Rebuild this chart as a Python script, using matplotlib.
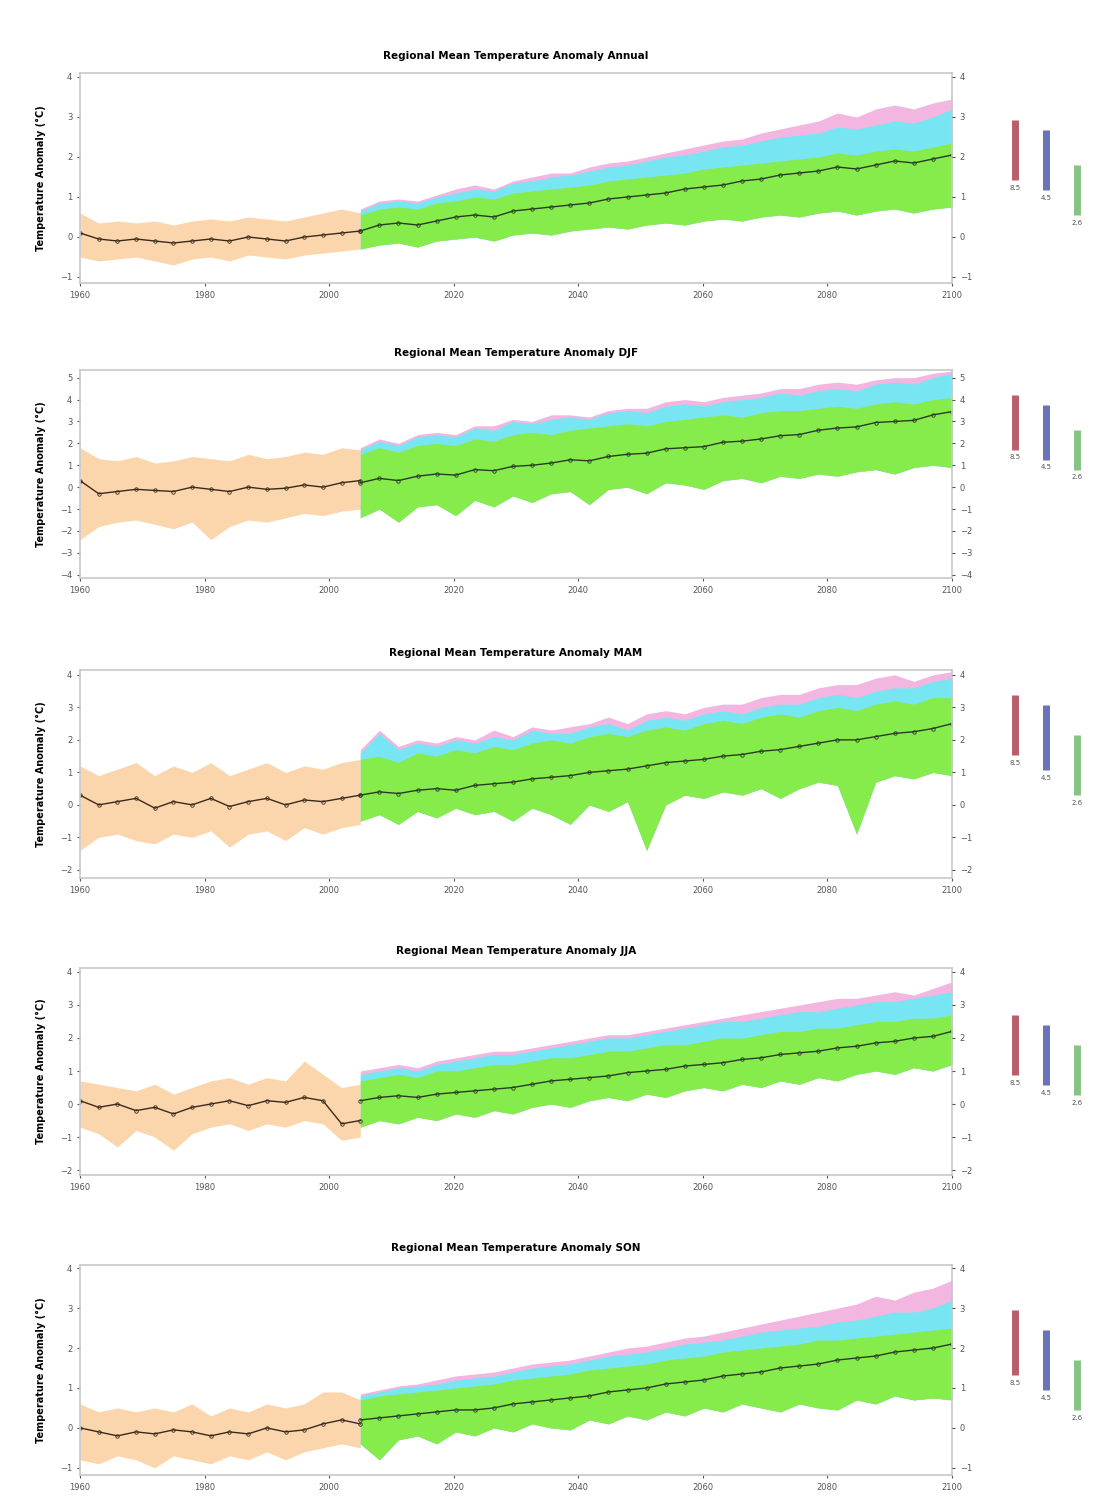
import numpy as np
import matplotlib.pyplot as plt

# Years on the x axis
hist_years = np.arange(1960, 2006, 3)
fut_years = np.linspace(2005, 2100, 32)
x_ticks = [1960, 1980, 2000, 2020, 2040, 2060, 2080, 2100]

seasons = ["Annual", "DJF", "MAM", "JJA", "SON"]

# ---- Annual ----
ann_hist_mean = [0.1, -0.05, -0.1, -0.05, -0.1, -0.15, -0.1, -0.05, -0.1, 0.0, -0.05, -0.1, 0.0, 0.05, 0.1, 0.15]
ann_hist_lo = [-0.5, -0.6, -0.55, -0.5, -0.6, -0.7, -0.55, -0.5, -0.6, -0.45, -0.5, -0.55, -0.45, -0.4, -0.35, -0.3]
ann_hist_hi = [0.6, 0.35, 0.4, 0.35, 0.4, 0.3, 0.4, 0.45, 0.4, 0.5, 0.45, 0.4, 0.5, 0.6, 0.7, 0.6]
ann_mean = [0.15, 0.3, 0.35, 0.3, 0.4, 0.5, 0.55, 0.5, 0.65, 0.7, 0.75, 0.8, 0.85, 0.95, 1.0, 1.05,
            1.1, 1.2, 1.25, 1.3, 1.4, 1.45, 1.55, 1.6, 1.65, 1.75, 1.7, 1.8, 1.9, 1.85, 1.95, 2.05]
ann_green_lo = [-0.3, -0.2, -0.15, -0.25, -0.1, -0.05, 0.0, -0.1, 0.05, 0.1, 0.05, 0.15, 0.2, 0.25, 0.2, 0.3,
                0.35, 0.3, 0.4, 0.45, 0.4, 0.5, 0.55, 0.5, 0.6, 0.65, 0.55, 0.65, 0.7, 0.6, 0.7, 0.75]
ann_green_hi = [0.55, 0.7, 0.75, 0.7, 0.85, 0.9, 1.0, 0.95, 1.1, 1.15, 1.2, 1.25, 1.3, 1.4, 1.45, 1.5,
                1.55, 1.6, 1.7, 1.75, 1.8, 1.85, 1.9, 1.95, 2.0, 2.1, 2.05, 2.15, 2.2, 2.15, 2.25, 2.35]
ann_cyan_hi = [0.65, 0.85, 0.9, 0.85, 1.0, 1.1, 1.2, 1.15, 1.35, 1.4, 1.5, 1.55, 1.65, 1.75, 1.8, 1.9,
               2.0, 2.05, 2.15, 2.25, 2.3, 2.4, 2.5, 2.55, 2.6, 2.75, 2.7, 2.8, 2.9, 2.85, 3.0, 3.2]
ann_pink_hi = [0.7, 0.9, 0.95, 0.9, 1.05, 1.2, 1.3, 1.2, 1.4, 1.5, 1.6, 1.6, 1.75, 1.85, 1.9, 2.0,
               2.1, 2.2, 2.3, 2.4, 2.45, 2.6, 2.7, 2.8, 2.9, 3.1, 3.0, 3.2, 3.3, 3.2, 3.35, 3.45]
ann_bars = [(2.93, 1.43), (2.68, 1.18), (1.8, 0.55)]

# ---- DJF ----
djf_hist_mean = [0.3, -0.3, -0.2, -0.1, -0.15, -0.2, 0.0, -0.1, -0.2, 0.0, -0.1, -0.05, 0.1, 0.0, 0.2, 0.3]
djf_hist_lo = [-2.4, -1.8, -1.6, -1.5, -1.7, -1.9, -1.6, -2.4, -1.8, -1.5, -1.6, -1.4, -1.2, -1.3, -1.1, -1.0]
djf_hist_hi = [1.8, 1.3, 1.2, 1.4, 1.1, 1.2, 1.4, 1.3, 1.2, 1.5, 1.3, 1.4, 1.6, 1.5, 1.8, 1.7]
djf_mean = [0.2, 0.4, 0.3, 0.5, 0.6, 0.55, 0.8, 0.75, 0.95, 1.0, 1.1, 1.25, 1.2, 1.4, 1.5, 1.55,
            1.75, 1.8, 1.85, 2.05, 2.1, 2.2, 2.35, 2.4, 2.6, 2.7, 2.75, 2.95, 3.0, 3.05, 3.3, 3.45]
djf_green_lo = [-1.4, -1.0, -1.6, -0.9, -0.8, -1.3, -0.6, -0.9, -0.4, -0.7, -0.3, -0.2, -0.8, -0.1, 0.0, -0.3,
                0.2, 0.1, -0.1, 0.3, 0.4, 0.2, 0.5, 0.4, 0.6, 0.5, 0.7, 0.8, 0.6, 0.9, 1.0, 0.9]
djf_green_hi = [1.5, 1.8, 1.6, 1.9, 2.0, 1.9, 2.2, 2.1, 2.4, 2.5, 2.4, 2.6, 2.7, 2.8, 2.9, 2.8,
                3.0, 3.1, 3.2, 3.3, 3.2, 3.4, 3.5, 3.5, 3.6, 3.7, 3.6, 3.8, 3.9, 3.8, 4.0, 4.1]
djf_cyan_hi = [1.7, 2.1, 1.9, 2.3, 2.4, 2.3, 2.7, 2.6, 3.0, 2.9, 3.1, 3.2, 3.1, 3.4, 3.5, 3.4,
               3.7, 3.8, 3.7, 3.9, 4.0, 4.1, 4.3, 4.2, 4.4, 4.5, 4.4, 4.7, 4.8, 4.7, 5.0, 5.2]
djf_pink_hi = [1.8, 2.2, 2.0, 2.4, 2.5, 2.4, 2.8, 2.8, 3.1, 3.0, 3.3, 3.3, 3.2, 3.5, 3.6, 3.6,
               3.9, 4.0, 3.9, 4.1, 4.2, 4.3, 4.5, 4.5, 4.7, 4.8, 4.7, 4.9, 5.0, 5.0, 5.2, 5.3]
djf_bars = [(4.22, 1.71), (3.77, 1.26), (2.63, 0.8)]

# ---- MAM ----
mam_hist_mean = [0.3, 0.0, 0.1, 0.2, -0.1, 0.1, 0.0, 0.2, -0.05, 0.1, 0.2, 0.0, 0.15, 0.1, 0.2, 0.3]
mam_hist_lo = [-1.4, -1.0, -0.9, -1.1, -1.2, -0.9, -1.0, -0.8, -1.3, -0.9, -0.8, -1.1, -0.7, -0.9, -0.7, -0.6]
mam_hist_hi = [1.2, 0.9, 1.1, 1.3, 0.9, 1.2, 1.0, 1.3, 0.9, 1.1, 1.3, 1.0, 1.2, 1.1, 1.3, 1.4]
mam_mean = [0.3, 0.4, 0.35, 0.45, 0.5, 0.45, 0.6, 0.65, 0.7, 0.8, 0.85, 0.9, 1.0, 1.05, 1.1, 1.2,
            1.3, 1.35, 1.4, 1.5, 1.55, 1.65, 1.7, 1.8, 1.9, 2.0, 2.0, 2.1, 2.2, 2.25, 2.35, 2.5]
mam_green_lo = [-0.5, -0.3, -0.6, -0.2, -0.4, -0.1, -0.3, -0.2, -0.5, -0.1, -0.3, -0.6, 0.0, -0.2, 0.1, -1.4,
                0.0, 0.3, 0.2, 0.4, 0.3, 0.5, 0.2, 0.5, 0.7, 0.6, -0.9, 0.7, 0.9, 0.8, 1.0, 0.9]
mam_green_hi = [1.4, 1.5, 1.3, 1.6, 1.5, 1.7, 1.6, 1.8, 1.7, 1.9, 2.0, 1.9, 2.1, 2.2, 2.1, 2.3,
                2.4, 2.3, 2.5, 2.6, 2.5, 2.7, 2.8, 2.7, 2.9, 3.0, 2.9, 3.1, 3.2, 3.1, 3.3, 3.3]
mam_cyan_hi = [1.6, 2.2, 1.7, 1.9, 1.8, 2.0, 1.9, 2.1, 2.0, 2.3, 2.2, 2.2, 2.4, 2.5, 2.3, 2.6,
               2.7, 2.6, 2.8, 2.9, 2.8, 3.0, 3.1, 3.1, 3.3, 3.4, 3.3, 3.5, 3.6, 3.6, 3.8, 3.9]
mam_pink_hi = [1.7, 2.3, 1.8, 2.0, 1.9, 2.1, 2.0, 2.3, 2.1, 2.4, 2.3, 2.4, 2.5, 2.7, 2.5, 2.8,
               2.9, 2.8, 3.0, 3.1, 3.1, 3.3, 3.4, 3.4, 3.6, 3.7, 3.7, 3.9, 4.0, 3.8, 4.0, 4.1]
mam_bars = [(3.38, 1.54), (3.08, 1.08), (2.15, 0.31)]

# ---- JJA ----
jja_hist_mean = [0.1, -0.1, 0.0, -0.2, -0.1, -0.3, -0.1, 0.0, 0.1, -0.05, 0.1, 0.05, 0.2, 0.1, -0.6, -0.5]
jja_hist_lo = [-0.7, -0.9, -1.3, -0.8, -1.0, -1.4, -0.9, -0.7, -0.6, -0.8, -0.6, -0.7, -0.5, -0.6, -1.1, -1.0]
jja_hist_hi = [0.7, 0.6, 0.5, 0.4, 0.6, 0.3, 0.5, 0.7, 0.8, 0.6, 0.8, 0.7, 1.3, 0.9, 0.5, 0.6]
jja_mean = [0.1, 0.2, 0.25, 0.2, 0.3, 0.35, 0.4, 0.45, 0.5, 0.6, 0.7, 0.75, 0.8, 0.85, 0.95, 1.0,
            1.05, 1.15, 1.2, 1.25, 1.35, 1.4, 1.5, 1.55, 1.6, 1.7, 1.75, 1.85, 1.9, 2.0, 2.05, 2.2]
jja_green_lo = [-0.7, -0.5, -0.6, -0.4, -0.5, -0.3, -0.4, -0.2, -0.3, -0.1, 0.0, -0.1, 0.1, 0.2, 0.1, 0.3,
                0.2, 0.4, 0.5, 0.4, 0.6, 0.5, 0.7, 0.6, 0.8, 0.7, 0.9, 1.0, 0.9, 1.1, 1.0, 1.2]
jja_green_hi = [0.7, 0.8, 0.9, 0.8, 1.0, 1.0, 1.1, 1.2, 1.2, 1.3, 1.4, 1.4, 1.5, 1.6, 1.6, 1.7,
                1.8, 1.8, 1.9, 2.0, 2.0, 2.1, 2.2, 2.2, 2.3, 2.3, 2.4, 2.5, 2.5, 2.6, 2.6, 2.7]
jja_cyan_hi = [0.9, 1.0, 1.1, 1.0, 1.2, 1.3, 1.4, 1.5, 1.5, 1.6, 1.7, 1.8, 1.9, 2.0, 2.0, 2.1,
               2.2, 2.3, 2.4, 2.5, 2.5, 2.6, 2.7, 2.8, 2.8, 2.9, 3.0, 3.1, 3.1, 3.2, 3.3, 3.4]
jja_pink_hi = [1.0, 1.1, 1.2, 1.1, 1.3, 1.4, 1.5, 1.6, 1.6, 1.7, 1.8, 1.9, 2.0, 2.1, 2.1, 2.2,
               2.3, 2.4, 2.5, 2.6, 2.7, 2.8, 2.9, 3.0, 3.1, 3.2, 3.2, 3.3, 3.4, 3.3, 3.5, 3.7]
jja_bars = [(2.7, 0.88), (2.39, 0.58), (1.79, 0.27)]

# ---- SON ----
son_hist_mean = [0.0, -0.1, -0.2, -0.1, -0.15, -0.05, -0.1, -0.2, -0.1, -0.15, 0.0, -0.1, -0.05, 0.1, 0.2, 0.1]
son_hist_lo = [-0.8, -0.9, -0.7, -0.8, -1.0, -0.7, -0.8, -0.9, -0.7, -0.8, -0.6, -0.8, -0.6, -0.5, -0.4, -0.5]
son_hist_hi = [0.6, 0.4, 0.5, 0.4, 0.5, 0.4, 0.6, 0.3, 0.5, 0.4, 0.6, 0.5, 0.6, 0.9, 0.9, 0.7]
son_mean = [0.2, 0.25, 0.3, 0.35, 0.4, 0.45, 0.45, 0.5, 0.6, 0.65, 0.7, 0.75, 0.8, 0.9, 0.95, 1.0,
            1.1, 1.15, 1.2, 1.3, 1.35, 1.4, 1.5, 1.55, 1.6, 1.7, 1.75, 1.8, 1.9, 1.95, 2.0, 2.1]
son_green_lo = [-0.4, -0.8, -0.3, -0.2, -0.4, -0.1, -0.2, 0.0, -0.1, 0.1, 0.0, -0.05, 0.2, 0.1, 0.3, 0.2,
                0.4, 0.3, 0.5, 0.4, 0.6, 0.5, 0.4, 0.6, 0.5, 0.45, 0.7, 0.6, 0.8, 0.7, 0.75, 0.7]
son_green_hi = [0.7, 0.8, 0.85, 0.9, 0.95, 1.0, 1.05, 1.1, 1.2, 1.25, 1.3, 1.35, 1.45, 1.5, 1.55, 1.6,
                1.7, 1.75, 1.8, 1.9, 1.95, 2.0, 2.05, 2.1, 2.2, 2.2, 2.25, 2.3, 2.35, 2.4, 2.45, 2.5]
son_cyan_hi = [0.8, 0.9, 1.0, 1.05, 1.1, 1.2, 1.25, 1.3, 1.4, 1.5, 1.55, 1.6, 1.7, 1.8, 1.85, 1.9,
               2.0, 2.1, 2.15, 2.2, 2.3, 2.4, 2.45, 2.5, 2.55, 2.65, 2.7, 2.8, 2.9, 2.9, 3.0, 3.2]
son_pink_hi = [0.85, 0.95, 1.05, 1.1, 1.2, 1.3, 1.35, 1.4, 1.5, 1.6, 1.65, 1.7, 1.8, 1.9, 2.0, 2.05,
               2.15, 2.25, 2.3, 2.4, 2.5, 2.6, 2.7, 2.8, 2.9, 3.0, 3.1, 3.3, 3.2, 3.4, 3.5, 3.7]
son_bars = [(2.95, 1.33), (2.45, 0.95), (1.7, 0.45)]

bar_labels = ["8.5", "4.5", "2.6"]
bar_colors = ["#b8606a", "#6a72b8", "#86c486"]

panels = [
    (ann_hist_mean, ann_hist_lo, ann_hist_hi, ann_mean, ann_green_lo, ann_green_hi, ann_cyan_hi, ann_pink_hi, ann_bars),
    (djf_hist_mean, djf_hist_lo, djf_hist_hi, djf_mean, djf_green_lo, djf_green_hi, djf_cyan_hi, djf_pink_hi, djf_bars),
    (mam_hist_mean, mam_hist_lo, mam_hist_hi, mam_mean, mam_green_lo, mam_green_hi, mam_cyan_hi, mam_pink_hi, mam_bars),
    (jja_hist_mean, jja_hist_lo, jja_hist_hi, jja_mean, jja_green_lo, jja_green_hi, jja_cyan_hi, jja_pink_hi, jja_bars),
    (son_hist_mean, son_hist_lo, son_hist_hi, son_mean, son_green_lo, son_green_hi, son_cyan_hi, son_pink_hi, son_bars),
]

# y limits and ticks for each panel
y_limits = [(-1.15, 4.1), (-4.15, 5.35), (-2.25, 4.15), (-2.15, 4.12), (-1.18, 4.08)]
y_ticks = [range(-1, 5), range(-4, 6), range(-2, 5), range(-2, 5), range(-1, 5)]

# Pixel positions of each axes frame (top, bottom)
W, H = 1112, 1505
frames = [(73, 283), (370, 578), (670, 878), (968, 1175), (1265, 1475)]

fig = plt.figure(figsize=(W / 100, H / 100), dpi=100)

for idx, (season, data, (top, bot)) in enumerate(zip(seasons, panels, frames)):
    h_mean, h_lo, h_hi, f_mean, g_lo, g_hi, c_hi, p_hi, bars = data
    ax = fig.add_axes([80 / W, 1 - bot / H, (952 - 80) / W, (bot - top) / H])

    # historical spread and mean
    ax.fill_between(hist_years, h_lo, h_hi, color="#fbcf9e", alpha=0.85, lw=0)
    ax.plot(hist_years, h_mean, color="#3a2a1a", lw=1.0, marker="o", ms=2.5, mfc="none", mew=0.6)

    # scenario spreads (8.5 pink, 4.5 cyan, 2.6 green)
    ax.fill_between(fut_years, g_lo, p_hi, color="#f2b6e0", lw=0)
    ax.fill_between(fut_years, g_lo, c_hi, color="#78e6f2", lw=0)
    ax.fill_between(fut_years, g_lo, g_hi, color="#86ec4c", lw=0)
    ax.plot(fut_years, f_mean, color="#2b3a24", lw=1.0, marker="o", ms=2.5, mfc="none", mew=0.6)

    ax.set_xlim(1960, 2100)
    ax.set_ylim(*y_limits[idx])
    ax.set_xticks(x_ticks)
    ax.set_yticks(list(y_ticks[idx]))
    ax.tick_params(labelsize=6, colors="#555555", length=2)
    for s in ax.spines.values():
        s.set_color("#c8c8c8")
        s.set_linewidth(1.2)
    ax.set_title(f"Regional Mean Temperature Anomaly {season}", fontsize=7.5, fontweight="bold", pad=10)
    ax.set_ylabel("Temperature Anomaly (°C)", fontsize=7, fontweight="bold", labelpad=10)

    # right axis with same ticks
    ax2 = ax.twinx()
    ax2.set_ylim(*y_limits[idx])
    ax2.set_yticks(list(y_ticks[idx]))
    ax2.tick_params(labelsize=6, colors="#555555", length=2)
    for s in ax2.spines.values():
        s.set_visible(False)

    # range bars on the right
    lax = fig.add_axes([995 / W, 1 - bot / H, 100 / W, (bot - top) / H])
    lax.set_xlim(0, 1)
    lax.set_ylim(*y_limits[idx])
    lax.axis("off")
    for j, ((b_hi, b_lo), col, lab) in enumerate(zip(bars, bar_colors, bar_labels)):
        xb = 0.2 + j * 0.31
        lax.vlines(xb, b_lo, b_hi, color=col, lw=5)
        lax.text(xb, b_lo - 0.12 * (y_limits[idx][1] - y_limits[idx][0]) / 5.25, lab,
                 fontsize=5, ha="center", va="top", color="#555555")

plt.savefig("out.png", dpi=100)
